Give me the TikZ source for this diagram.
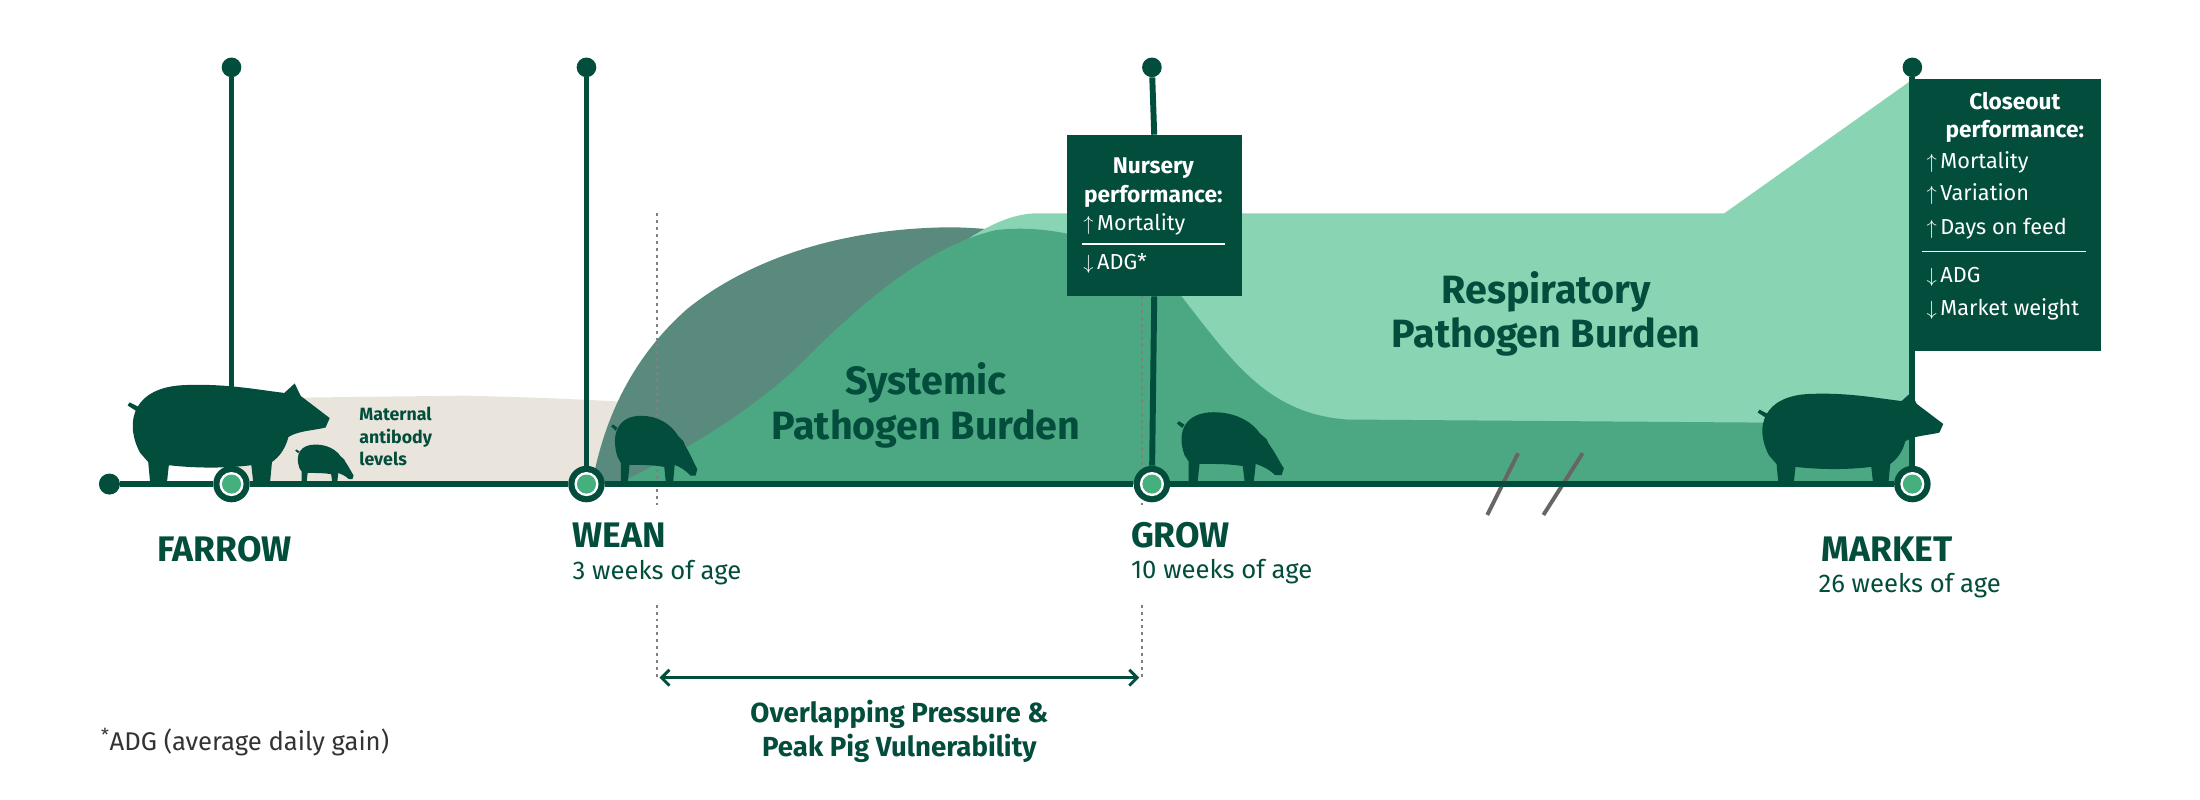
\documentclass[tikz,border=0pt]{standalone}
\usepackage{fontspec}
\setmainfont{Fira Sans}
\usetikzlibrary{arrows.meta}
\definecolor{dg}{HTML}{024D3C}
\definecolor{mg}{HTML}{4BA882}
\definecolor{lg}{HTML}{88D4B3}
\definecolor{dt}{HTML}{5A8A7E}
\definecolor{bg}{HTML}{EAE5DC}
\definecolor{rc}{HTML}{45B07E}
\newcommand{\fs}[1]{\fontsize{#1}{#1}\selectfont}
\begin{document}
\begin{tikzpicture}[x=0.05cm,y=-0.05cm,
  ring/.style={circle,fill=dg,minimum size=1.3cm,inner sep=0,path picture={\fill[white](path picture bounding box.center) circle (0.43cm);\fill[rc](path picture bounding box.center) circle (0.34cm);}},
  topdot/.style={circle,fill=dg,minimum size=0.7cm,inner sep=0},
  vline/.style={dg,line width=6pt},
  lab/.style={text=dg,font=\bfseries\fs{36},anchor=base west,inner sep=0},
  sub/.style={text=dg,font=\fs{26},anchor=base west,inner sep=0},
  box/.style={fill=dg,text=white,inner sep=0},
  btxt/.style={text=white,font=\fs{22},anchor=base west,inner sep=0},
  bhead/.style={text=white,font=\bfseries\fs{23},anchor=base,inner sep=0},
  burden/.style={text=dg,font=\bfseries\fs{40},anchor=base,inner sep=0},
  dotl/.style={gray,line width=2pt,dash pattern=on 3pt off 4pt},
  pics/pig/.style 2 args={code={\fill[dg,xscale=#1,yscale=-#2]
    (8,20) .. controls (0,40) and (5,62) .. (30,63) .. controls (50,64) and (65,60) .. (78,58) -- (83,64) -- (86,56) .. controls (92,50) and (96,46) .. (100,42) -- (98,36) .. controls (92,34) and (85,34) .. (80,30) .. controls (78,20) and (74,16) .. (72,14) -- (71,0) -- (63,0) -- (62,12) .. controls (50,10) and (35,10) .. (22,12) -- (21,0) -- (13,0) -- (12,14) -- cycle
    (8,45) -- (2,50) -- (3,52) -- (9,48) -- cycle;}},
  pics/pigdown/.style 2 args={code={\fill[dg,xscale=#1,yscale=-#2]
    (8,26) .. controls (0,48) and (10,64) .. (35,64) .. controls (55,64) and (70,56) .. (78,45) -- (84,40) -- (86,36) .. controls (92,28) and (96,20) .. (100,14) -- (98,8) -- (92,8) .. controls (85,14) and (80,16) .. (74,18) -- (72,0) -- (64,0) -- (62,16) .. controls (50,18) and (35,18) .. (22,18) -- (20,0) -- (12,0) -- (12,20) -- cycle
    (6,50) -- (1,54) -- (3,56) -- (8,53) -- cycle;}}
]
\useasboundingbox (0,0) rectangle (1568,570);
\fill[white] (0,0) rectangle (1568,570);
% maternal
\fill[bg] (165,345) -- (165,284) -- (330,282) .. controls (420,284) and (480,288) .. (540,294) -- (560,345) -- cycle;
% dark teal
\fill[dt] (422,345) .. controls (430,300) and (450,255) .. (490,220) .. controls (540,180) and (610,162) .. (680,162) .. controls (720,163) and (760,170) .. (790,180) -- (790,345) -- cycle;
% respiratory
\fill[lg] (600,345) -- (640,210) .. controls (680,175) and (710,152) .. (740,152) -- (1229,152) -- (1364,56) -- (1364,345) -- cycle;
% systemic
\fill[mg] (440,345) .. controls (470,330) and (530,300) .. (575,255) .. controls (610,220) and (660,175) .. (710,164) .. controls (760,158) and (820,180) .. (845,215) .. controls (880,260) and (905,295) .. (960,299) -- (1364,302) -- (1364,345) -- cycle;
% dotted
\coordinate (d1t) at (468,152); \coordinate (d1m) at (468,360);
\coordinate (d1b) at (468,431); \coordinate (d1e) at (468,485);
\coordinate (d2t) at (814,211); \coordinate (d2m) at (814,360);
\coordinate (d2b) at (814,431); \coordinate (d2e) at (814,485);
\draw[dotl] (d1t) -- (d1m); \draw[dotl] (d1b) -- (d1e);
\draw[dotl] (d2t) -- (d2m); \draw[dotl] (d2b) -- (d2e);
% pigs
\pic at (88,345) {pig={1.47}{1.12}};
\pic at (210,345) {pigdown={0.42}{0.44}};
\pic at (435,345) {pigdown={0.62}{0.76}};
\pic at (838,345) {pigdown={0.77}{0.8}};
\pic at (1250,345) {pig={1.35}{1.02}};
% break marks
\coordinate (b1a) at (1060,367); \coordinate (b1b) at (1082,323);
\coordinate (b2a) at (1100,367); \coordinate (b2b) at (1128,323);
\draw[gray!80!black,line width=4pt] (b1a) -- (b1b);
\draw[gray!80!black,line width=4pt] (b2a) -- (b2b);
% axis
\node[circle,fill=dg,minimum size=0.75cm,inner sep=0] (start) at (78,345) {};
\node[ring] (farrow) at (165,345) {};
\node[ring] (wean) at (418,345) {};
\node[ring] (grow) at (821,345) {};
\node[ring] (market) at (1363,345) {};
\draw[vline] (start) -- (farrow) -- (wean) -- (grow) -- (market);
\node[topdot] (t1) at (165,48) {};
\node[topdot] (t2) at (418,48) {};
\node[topdot] (t3) at (821,48) {};
\node[topdot] (t4) at (1363,48) {};
\draw[vline] (t1) -- (farrow);
\draw[vline] (t2) -- (wean);
\draw[vline] (t4) -- (market);
% nursery box
\node[box,minimum width=125*0.05cm,minimum height=115*0.05cm,anchor=north west] (nbox) at (760,96) {};
\draw[vline] (t3) -- (nbox.north);
\draw[vline] (nbox.south) -- (grow);
\node[bhead] (n1) at (822,124) {Nursery};
\node[bhead] (n2) at (822,144) {performance:};
\node[btxt] (n3) at (772,164) {$\uparrow$\,Mortality};
\draw[white,line width=1.3pt] (771,174) -- (873,174);
\node[btxt] (n4) at (772,192) {$\downarrow$\,ADG*};
% closeout box
\node[box,minimum width=133*0.05cm,minimum height=194*0.05cm,anchor=north west] (cbox) at (1364,56) {};
\node[bhead] (c1) at (1436,78) {Closeout};
\node[bhead] (c2) at (1436,98) {performance:};
\node[btxt] (c3) at (1373,120) {$\uparrow$\,Mortality};
\node[btxt] (c4) at (1373,143) {$\uparrow$\,Variation};
\node[btxt] (c5) at (1373,167) {$\uparrow$\,Days on feed};
\draw[white,line width=1.3pt] (1370,179) -- (1487,179);
\node[btxt] (c6) at (1373,201) {$\downarrow$\,ADG};
\node[btxt] (c7) at (1373,225) {$\downarrow$\,Market weight};
% burden labels
\node[burden] (s1) at (660,281) {Systemic};
\node[burden] (s2) at (660,313) {Pathogen Burden};
\node[burden] (r1) at (1102,216) {Respiratory};
\node[burden] (r2) at (1102,248) {Pathogen Burden};
\node[text=dg,font=\bfseries\fs{18},anchor=base west,inner sep=0] (m1) at (256,300) {Maternal};
\node[text=dg,font=\bfseries\fs{18},anchor=base west,inner sep=0] (m2) at (256,316) {antibody};
\node[text=dg,font=\bfseries\fs{18},anchor=base west,inner sep=0] (m3) at (256,332) {levels};
% stage labels
\node[lab] (lf) at (112,400) {FARROW};
\node[lab] (lw) at (408,390) {WEAN};
\node[sub] (sw) at (408,413) {3 weeks of age};
\node[lab] (lg) at (806,390) {GROW};
\node[sub] (sg) at (806,412) {10 weeks of age};
\node[lab] (lm) at (1298,400) {MARKET};
\node[sub] (sm) at (1296,422) {26 weeks of age};
% arrow
\coordinate (al) at (470,483); \coordinate (ar) at (812,483);
\draw[dg,line width=3pt,{Straight Barb[length=8pt,width=16pt]}-{Straight Barb[length=8pt,width=16pt]}] (al) -- (ar);
\node[text=dg,font=\bfseries\fs{28},anchor=base,inner sep=0] (o1) at (641,515) {Overlapping Pressure \&};
\node[text=dg,font=\bfseries\fs{28},anchor=base,inner sep=0] (o2) at (641,539) {Peak Pig Vulnerability};
\node[text=black!80,font=\fs{26},anchor=base west,inner sep=0] (adg) at (72,535) {\textsuperscript{*}ADG (average daily gain)};
\end{tikzpicture}
\end{document}
